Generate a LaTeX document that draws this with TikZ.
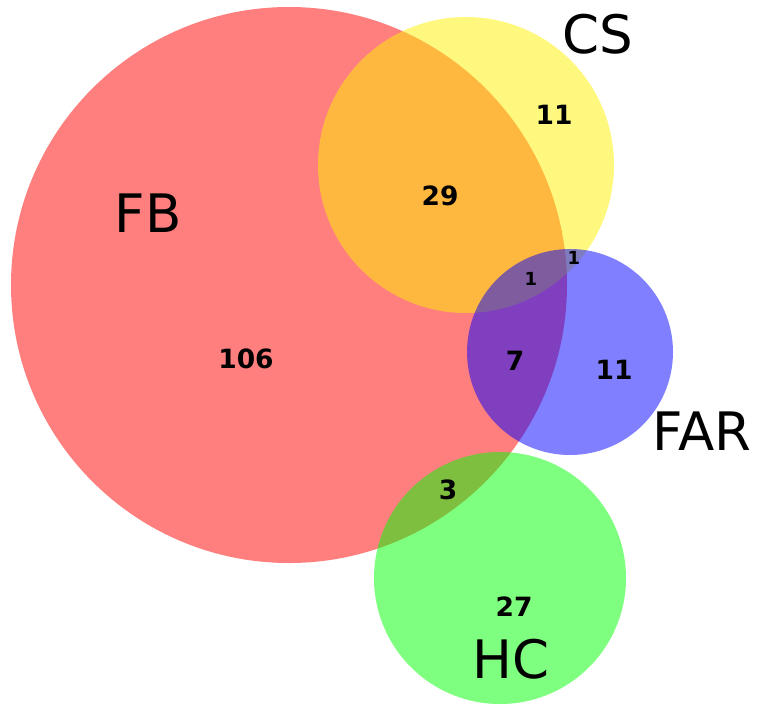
\documentclass[tikz,border=0pt]{standalone}
\usepackage{fontspec}
\setmainfont{DejaVu Sans}
\begin{document}
\begin{tikzpicture}[x=1pt,y=-1pt,
  setc/.style={fill opacity=0.5, draw=none},
  setlabel/.style={inner sep=0pt, font=\fontsize{53}{60}\selectfont},
  count/.style={inner sep=0pt, font=\bfseries\fontsize{26.5}{30}\selectfont},
  smallcount/.style={inner sep=0pt, font=\bfseries\fontsize{18}{20}\selectfont}]
\useasboundingbox (0,0) rectangle (759,704);
\fill[setc, red] (289,285) circle (278);
\fill[setc, yellow] (466,165) circle (148);
\fill[setc, blue] (570,352) circle (103);
\fill[setc, green] (500,578) circle (126);
\node[setlabel] (fb) at (148,213) {FB};
\node[setlabel] (cs) at (598,34) {CS};
\node[setlabel] (far) at (702,431) {FAR};
\node[setlabel] (hc) at (511,659) {HC};
\node[count] (n106) at (246,359) {106};
\node[count] (n29) at (440,196) {29};
\node[count] (n11a) at (554,115) {11};
\node[smallcount] (n1a) at (574,258) {1};
\node[smallcount] (n1b) at (531,279) {1};
\node[count] (n7) at (515,361) {7};
\node[count] (n11b) at (614,370) {11};
\node[count] (n3) at (448,490) {3};
\node[count] (n27) at (514,607) {27};
\end{tikzpicture}
\end{document}
